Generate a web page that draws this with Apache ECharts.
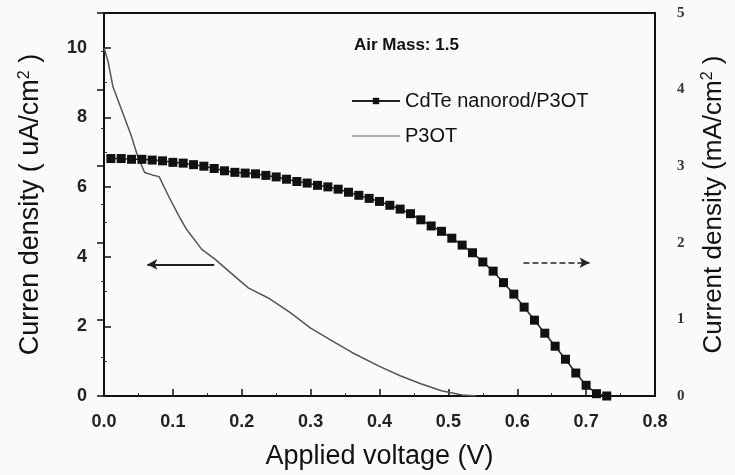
<!DOCTYPE html>
<html>
<head>
<meta charset="utf-8">
<script src="https://cdn.jsdelivr.net/npm/echarts@6/dist/echarts.min.js"></script>
<style>html,body{margin:0;padding:0;background:#fafafa;}#c{width:735px;height:475px;}</style>
</head>
<body>
<div id="c"></div>
<script>
// CdTe nanorod/P3OT (right axis, mA/cm2)
const cdteV = [0.010,0.025,0.040,0.055,0.070,0.085,0.100,0.115,0.130,0.145,0.160,0.175,0.190,0.205,0.220,0.235,0.250,0.265,0.280,0.295,0.310,0.325,0.340,0.355,0.370,0.385,0.400,0.415,0.430,0.445,0.460,0.475,0.490,0.505,0.520,0.535,0.550,0.565,0.580,0.595,0.610,0.625,0.640,0.655,0.670,0.685,0.700,0.715,0.730];
const cdteJ = [3.10,3.10,3.09,3.09,3.08,3.07,3.05,3.04,3.02,3.00,2.97,2.94,2.92,2.91,2.90,2.88,2.86,2.83,2.80,2.78,2.75,2.73,2.70,2.66,2.62,2.58,2.54,2.49,2.44,2.38,2.30,2.22,2.15,2.06,1.97,1.87,1.75,1.63,1.48,1.33,1.16,0.99,0.82,0.65,0.48,0.30,0.14,0.03,0.0];
// P3OT (left axis, uA/cm2)
const p3otV = [0.000,0.006,0.013,0.027,0.040,0.049,0.059,0.070,0.080,0.094,0.109,0.120,0.142,0.161,0.195,0.210,0.240,0.270,0.300,0.330,0.360,0.400,0.430,0.460,0.490,0.520,0.540];
const p3otJ = [10.0,9.60,8.88,8.14,7.45,6.88,6.42,6.35,6.30,5.73,5.16,4.78,4.21,3.93,3.35,3.10,2.80,2.40,1.95,1.60,1.25,0.85,0.58,0.35,0.15,0.03,0.0];
// Arrows (data coordinates)
const leftArrow = [[0.160,3.78],[0.063,3.78]];
const rightArrow = [[0.609,1.74],[0.705,1.74]];
const xTicks = [0,0.8,0.1];
const yLeft = [0,11,2];
const yRight = [0,5,1];

const chart = echarts.init(document.getElementById('c'));
const font = 'Liberation Sans, Arial, sans-serif';
const axisCommon = {
  axisLine:{show:true,lineStyle:{color:'#111',width:2}},
  axisTick:{show:true,inside:true,length:7,lineStyle:{color:'#111',width:1.5}},
  minorTick:{show:true,splitNumber:2,length:3,lineStyle:{color:'#333'}},
  splitLine:{show:false}
};
const supRich = {s:{fontFamily:font,fontSize:16,verticalAlign:'top',padding:[0,0,12,0],color:'#111'}};
chart.setOption({
  backgroundColor:'#fafafa',
  animation:false,
  title:{text:'Air Mass: 1.5',left:349,top:32,textStyle:{fontFamily:font,fontWeight:'bold',fontSize:17,color:'#111'}},
  legend:{
    orient:'vertical',left:346,top:86,itemWidth:48,itemHeight:8,itemGap:15,
    textStyle:{fontFamily:font,fontSize:20,color:'#111'},
    data:[{name:'CdTe nanorod/P3OT'},{name:'P3OT',icon:'path://M0,0 L48,0 L48,1 L0,1 Z'}]
  },
  grid:{left:104,right:72,top:13,bottom:78,show:true,borderColor:'#111',borderWidth:2},
  xAxis:[Object.assign({
    type:'value',min:xTicks[0],max:xTicks[1],interval:xTicks[2],
    name:'Applied voltage (V)',nameLocation:'middle',nameGap:47,
    nameTextStyle:{fontFamily:font,fontSize:27,color:'#111'},
    axisLabel:{fontFamily:font,fontWeight:'bold',fontSize:18,color:'#222',margin:17,formatter:v=>v.toFixed(1)}
  },axisCommon),{
    type:'value',position:'top',min:xTicks[0],max:xTicks[1],interval:xTicks[2],
    axisLine:{show:true,lineStyle:{color:'#111',width:2}},axisTick:{show:false},axisLabel:{show:false},splitLine:{show:false}
  }],
  yAxis:[Object.assign({
    type:'value',min:yLeft[0],max:yLeft[1],interval:yLeft[2],position:'left',
    name:'Curren density ( uA/cm{s|2} )',nameLocation:'middle',nameGap:59,nameRotate:90,
    nameTextStyle:{fontFamily:font,fontSize:27,color:'#111',rich:supRich},
    axisLabel:{fontFamily:font,fontWeight:'bold',fontSize:18,color:'#222',margin:17,showMaxLabel:false}
  },axisCommon),Object.assign({
    type:'value',min:yRight[0],max:yRight[1],interval:yRight[2],position:'right',
    name:'Current density (mA/cm{s|2} )',nameLocation:'middle',nameGap:45,nameRotate:90,
    nameTextStyle:{fontFamily:font,fontSize:26,color:'#111',rich:supRich},
    axisLabel:{fontFamily:'Liberation Serif, serif',fontWeight:'bold',fontSize:15,color:'#333',margin:22}
  },axisCommon)],
  series:[
    {
      name:'CdTe nanorod/P3OT',type:'line',yAxisIndex:1,
      data:cdteV.map((v,i)=>[v,cdteJ[i]]),
      symbol:'rect',symbolSize:9,showSymbol:true,
      itemStyle:{color:'#111'},lineStyle:{color:'#222',width:1.5},
      markLine:{silent:true,symbol:['none','arrow'],symbolSize:[8,10],label:{show:false},
        lineStyle:{color:'#222',width:1.5,type:'dashed'},
        data:[[{coord:rightArrow[0]},{coord:rightArrow[1]}]]}
    },
    {
      name:'P3OT',type:'line',yAxisIndex:0,
      data:p3otV.map((v,i)=>[v,p3otJ[i]]),
      symbol:'none',showSymbol:false,
      itemStyle:{color:'#666'},lineStyle:{color:'#555',width:1.5},
      markLine:{silent:true,symbol:['none','arrow'],symbolSize:[8,10],label:{show:false},
        lineStyle:{color:'#222',width:1.8,type:'solid'},
        data:[[{coord:leftArrow[0]},{coord:leftArrow[1]}]]}
    }
  ]
});
</script>
</body>
</html>
